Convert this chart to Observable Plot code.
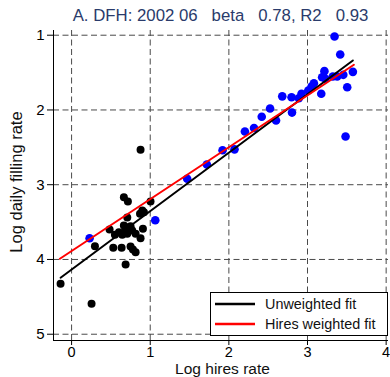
<!DOCTYPE html>
<html>
<head>
<meta charset="utf-8">
<script src="https://cdn.jsdelivr.net/npm/d3@7"></script>
<script src="https://cdn.jsdelivr.net/npm/@observablehq/plot@0.6"></script>
<style>
  html, body { margin: 0; padding: 0; background: white; }
  #chart { position: relative; width: 390px; height: 377px; }
</style>
</head>
<body>
<div id="chart"></div>
<script>
// ---- Data ----
const titleText = "A. DFH: 2002 06   beta   0.78, R2   0.93";
const xLabel = "Log hires rate";
const yLabel = "Log daily filling rate";
const xTicks = [0, 1, 2, 3, 4];
const yTicks = [1, 2, 3, 4, 5];
const xDomain = [-0.23, 4.03];
const yDomain = [0.937, 5.084];

// black points
const blackX = [-0.14, 0.254, 0.297, 0.483, 0.530, 0.551, 0.602, 0.636, 0.644, 0.665,
                0.665, 0.716, 0.687, 0.708, 0.708, 0.729, 0.750, 0.771, 0.780, 0.814,
                0.814, 0.877, 0.899, 0.920, 0.907, 1.004, 0.877, 0.870, 0.687, 0.750];
const blackY = [4.326, 4.593, 3.823, 3.600, 3.844, 3.670, 3.635, 3.844, 3.670, 3.546,
                3.167, 3.225, 4.068, 3.440, 3.657, 3.569, 3.827, 3.613, 3.867, 3.657,
                3.903, 3.716, 3.345, 3.368, 3.590, 3.225, 2.533, 3.390, 3.603, 3.555];

// blue points
const blueX = [0.229, 1.064, 1.470, 1.720, 1.920, 2.072, 2.204, 2.320, 2.418, 2.524,
               2.600, 2.679, 2.797, 2.803, 2.889, 2.924, 3.010, 3.052, 3.081, 3.175,
               3.186, 3.215, 3.228, 3.322, 3.378, 3.455, 3.505, 3.577, 3.344, 3.416, 3.484];
const blueY = [3.716, 3.475, 2.921, 2.730, 2.538, 2.527, 2.288, 2.242, 2.090, 1.981,
               2.140, 1.818, 1.829, 2.035, 1.843, 1.784, 1.740, 1.686, 1.642, 1.784,
               1.562, 1.481, 1.583, 1.553, 1.553, 1.530, 1.696, 1.490, 1.017, 1.258, 2.355];

// fit lines
const fitNames = ["Unweighted fit", "Hires weighted fit"];
const fitColors = ["#000000", "#ff0000"];
const fitIntercepts = [4.135, 3.887];
const fitSlopes = [-0.782, -0.694];
const fitXStart = [-0.14, -0.149];
const fitXEnd = [3.577, 3.59];

// ---- Build tables ----
const blackPts = blackX.map((x, i) => ({x, y: blackY[i]}));
const bluePts = blueX.map((x, i) => ({x, y: blueY[i]}));
const fitLines = fitNames.flatMap((name, i) => [fitXStart[i], fitXEnd[i]].map(x => ({
  name, x, y: fitIntercepts[i] + fitSlopes[i] * x
})));

const W = 390, H = 377;
const mL = 53, mR = 2, mT = 30, mB = 37;

const chart = Plot.plot({
  width: W, height: H,
  marginLeft: mL, marginRight: mR, marginTop: mT, marginBottom: mB,
  x: {domain: xDomain},
  y: {domain: yDomain, reverse: true},
  color: {domain: fitNames, range: fitColors},
  style: {fontFamily: "'Liberation Sans', Arial, sans-serif", fontSize: "15px", background: "white", color: "black"},
  marks: [
    Plot.gridX(xTicks, {stroke: "#4a4a4a", strokeOpacity: 1, strokeDasharray: "6,3.5"}),
    Plot.gridY(yTicks, {stroke: "#4a4a4a", strokeOpacity: 1, strokeDasharray: "6,3.5"}),
    Plot.ruleX([xDomain[0]], {stroke: "black"}),
    Plot.ruleY([yDomain[1]], {stroke: "black"}),
    Plot.axisX(xTicks, {tickSize: 5, tickPadding: 1, label: null, tickFormat: "d", fontSize: 14.5}),
    Plot.axisY(yTicks, {tickSize: 6, tickPadding: 3, label: null, tickFormat: "d"}),
    Plot.dot(blackPts, {x: "x", y: "y", r: 4, fill: "black", stroke: "none"}),
    Plot.dot(bluePts, {x: "x", y: "y", r: 4.3, fill: "#0000ff", stroke: "none"}),
    Plot.line(fitLines, {x: "x", y: "y", z: "name", stroke: "name", strokeWidth: 2})
  ]
});

document.getElementById("chart").appendChild(chart);

// ---- Titles, axis labels, legend ----
const svg = d3.select(chart);
const font = "'Liberation Sans', Arial, sans-serif";
const cx = (mL + (W - mR)) / 2;

svg.append("text")
  .attr("x", cx).attr("y", 20.5)
  .attr("text-anchor", "middle")
  .attr("font-family", font).attr("font-size", 16.8)
  .attr("fill", "#2a3b6b")
  .style("white-space", "pre")
  .text(titleText);

svg.append("text")
  .attr("x", cx + 2).attr("y", 373.7)
  .attr("text-anchor", "middle")
  .attr("font-family", font).attr("font-size", 15.5)
  .attr("fill", "#111")
  .text(xLabel);

svg.append("text")
  .attr("transform", "translate(22,182) rotate(-90)")
  .attr("text-anchor", "middle")
  .attr("font-family", font).attr("font-size", 16.5)
  .attr("fill", "#111")
  .text(yLabel);

// legend
const lg = svg.append("g");
lg.append("rect")
  .attr("x", 210.5).attr("y", 292.5).attr("width", 177).attr("height", 43)
  .attr("fill", "white").attr("stroke", "black").attr("stroke-width", 1);
fitNames.forEach((name, i) => {
  const yy = 304 + i * 20;
  lg.append("line")
    .attr("x1", 215).attr("x2", 255).attr("y1", yy).attr("y2", yy)
    .attr("stroke", fitColors[i]).attr("stroke-width", 2.5);
  lg.append("text")
    .attr("x", 265).attr("y", yy).attr("dy", "0.36em")
    .attr("text-anchor", "start")
    .attr("font-family", font).attr("font-size", 14.4)
    .attr("fill", "#111")
    .text(name);
});
</script>
</body>
</html>
